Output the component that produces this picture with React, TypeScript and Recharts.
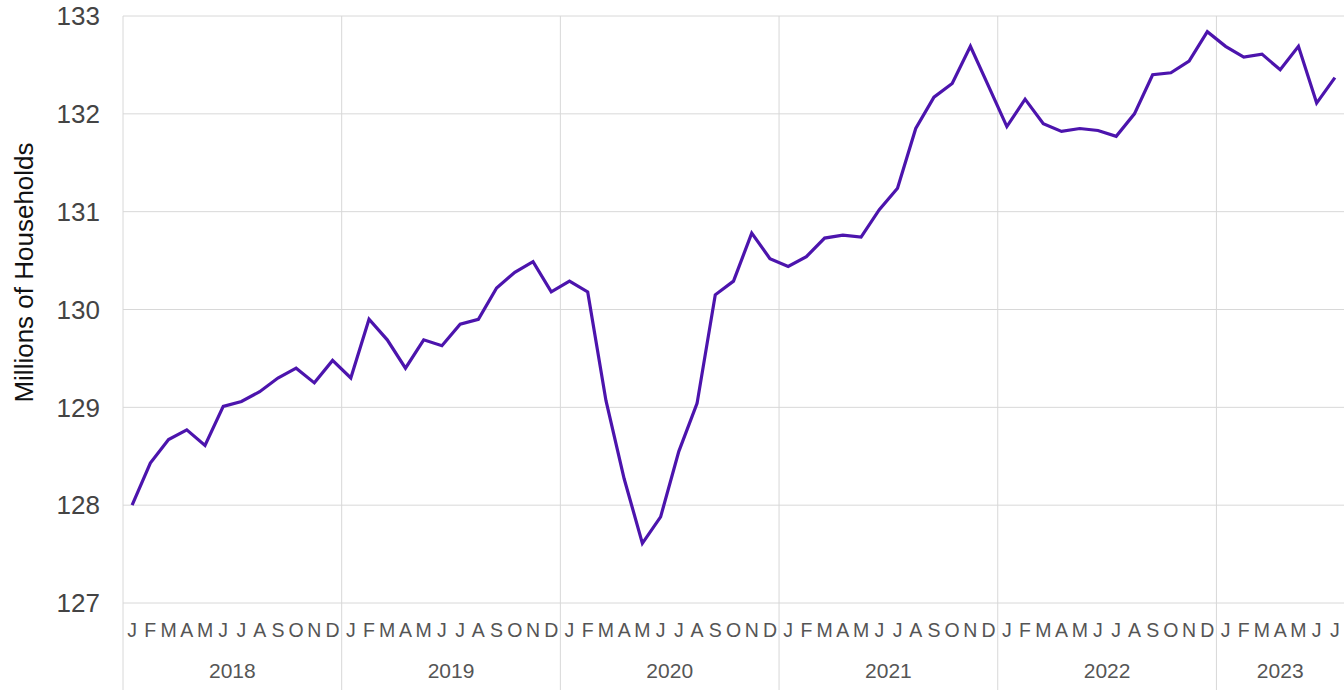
import React from 'react';
import { LineChart, Line, XAxis, YAxis, CartesianGrid, ReferenceLine } from 'recharts';

const YEARS = [2018, 2019, 2020, 2021, 2022, 2023];
const MONTH_LETTERS = ['J', 'F', 'M', 'A', 'M', 'J', 'J', 'A', 'S', 'O', 'N', 'D'];
const Y_TICKS = [127, 128, 129, 130, 131, 132, 133];

const HH_2018 = [128.0, 128.43, 128.67, 128.77, 128.61, 129.01, 129.06, 129.16, 129.3, 129.4, 129.25, 129.48];
const HH_2019 = [129.3, 129.9, 129.69, 129.4, 129.69, 129.63, 129.85, 129.9, 130.22, 130.38, 130.49, 130.18];
const HH_2020 = [130.29, 130.18, 129.07, 128.27, 127.61, 127.88, 128.55, 129.04, 130.15, 130.29, 130.78, 130.52];
const HH_2021 = [130.44, 130.54, 130.73, 130.76, 130.74, 131.02, 131.24, 131.85, 132.17, 132.31, 132.69, 132.28];
const HH_2022 = [131.87, 132.15, 131.9, 131.82, 131.85, 131.83, 131.77, 132.0, 132.4, 132.42, 132.54, 132.84];
const HH_2023 = [132.69, 132.58, 132.61, 132.45, 132.69, 132.11, 132.37];

const SERIES_BY_YEAR = [HH_2018, HH_2019, HH_2020, HH_2021, HH_2022, HH_2023];

type Row = { key: string; year: number; m: number; n: number; value: number };
const data: Row[] = [];
YEARS.forEach((year, yi) => {
  const vals = SERIES_BY_YEAR[yi];
  vals.forEach((v, m) => {
    data.push({ key: `${year}-${m + 1}`, year, m, n: vals.length, value: v });
  });
});
const rowByKey: Record<string, Row> = {};
data.forEach((r) => (rowByKey[r.key] = r));
const janKeys = data.filter((r) => r.m === 0).map((r) => r.key);

const FONT = '"Liberation Sans", Arial, Helvetica, sans-serif';
const GRID = '#d8d8d8';
const LINE_COLOR = '#4c14ad';

const MonthTick = (props: any) => {
  const { x, y, payload } = props;
  const row = rowByKey[payload.value];
  if (!row) return null;
  const half = typeof payload.offset === 'number' && payload.offset > 0 ? payload.offset : 9.1;
  const mid = (row.n - 1) / 2;
  const midIdx = Math.floor(mid);
  return (
    <g>
      <text x={x} y={y + 34} textAnchor="middle" fill="#555" fontSize={19.5} fontFamily={FONT}>
        {MONTH_LETTERS[row.m]}
      </text>
      {row.m === 0 && <line x1={x - half} x2={x - half} y1={y} y2={y + 87} stroke={GRID} strokeWidth={1} />}
      {row.m === midIdx && (
        <text x={x + (mid - midIdx) * 2 * half} y={y + 75} textAnchor="middle" fill="#555" fontSize={21} fontFamily={FONT}>
          {row.year}
        </text>
      )}
    </g>
  );
};

const YLabel = (props: any) => {
  const vb = props.viewBox || { x: 0, y: 0, width: 0, height: 0 };
  const cx = 33;
  const cy = vb.y + vb.height / 2 - 37;
  return (
    <text
      x={cx}
      y={cy}
      transform={`rotate(-90, ${cx}, ${cy})`}
      textAnchor="middle"
      fill="#111"
      fontSize={26}
      fontFamily={FONT}
    >
      Millions of Households
    </text>
  );
};

export default function App() {
  return (
    <div style={{ width: 1344, height: 695, background: '#fff' }}>
      <style>{`body{margin:0;background:#fff}`}</style>
      <LineChart width={1344} height={695} data={data} margin={{ top: 16, right: 0, left: 0, bottom: 0 }}>
        <CartesianGrid horizontal={true} vertical={false} stroke={GRID} strokeWidth={1} />
        <XAxis
          dataKey="key"
          type="category"
          scale="band"
          interval={0}
          height={92}
          axisLine={false}
          tickLine={false}
          tickSize={0}
          tickMargin={0}
          tick={<MonthTick />}
        />
        <YAxis
          domain={[127, 133]}
          ticks={Y_TICKS}
          width={123}
          axisLine={false}
          tickLine={false}
          tickMargin={17}
          tick={{ fill: '#444', fontSize: 26, fontFamily: FONT }}
          label={<YLabel />}
        />
        {janKeys.map((k) => (
          <ReferenceLine key={k} x={k} position="start" stroke={GRID} strokeWidth={1} ifOverflow="visible" />
        ))}
        <Line
          type="linear"
          dataKey="value"
          stroke={LINE_COLOR}
          strokeWidth={3.2}
          dot={false}
          isAnimationActive={false}
        />
      </LineChart>
    </div>
  );
}
